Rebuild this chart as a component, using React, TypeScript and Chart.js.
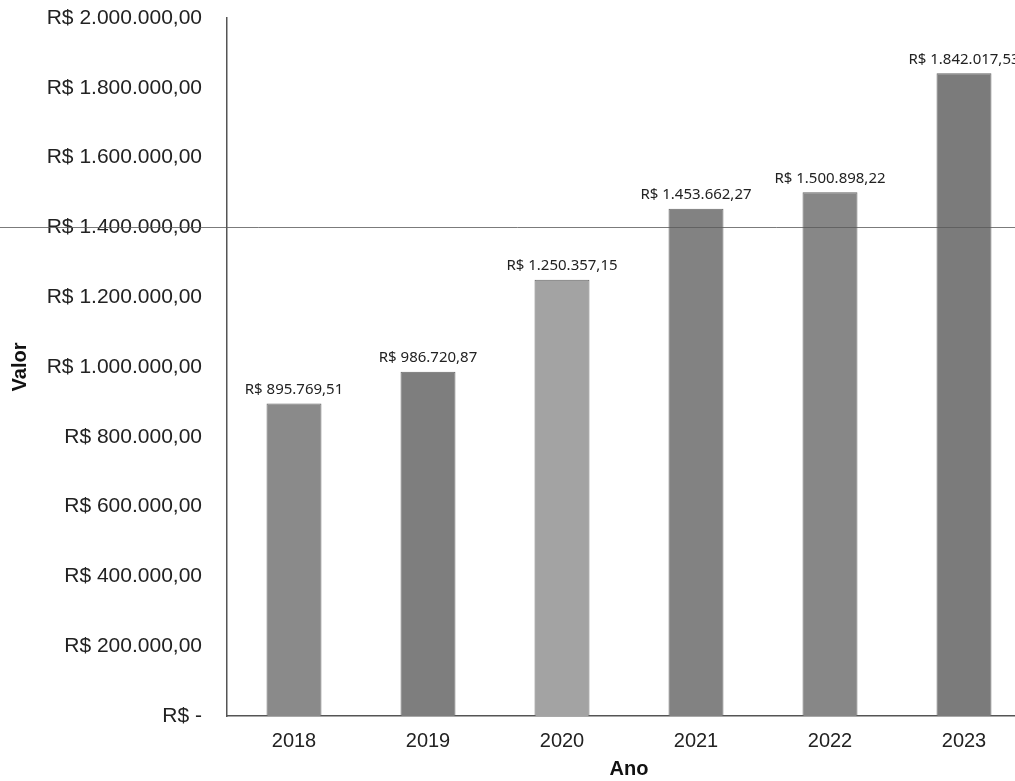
import React, { useEffect, useRef } from "react";
import { Chart, registerables } from "chart.js";

Chart.register(...registerables);

const years = ["2018", "2019", "2020", "2021", "2022", "2023"];
const values = [895769.51, 986720.87, 1250357.15, 1453662.27, 1500898.22, 1842017.53];
const valueLabels = [
  "R$ 895.769,51",
  "R$ 986.720,87",
  "R$ 1.250.357,15",
  "R$ 1.453.662,27",
  "R$ 1.500.898,22",
  "R$ 1.842.017,53",
];
const barColors = ["#8a8a8a", "#7e7e7e", "#a3a3a3", "#828282", "#878787", "#7b7b7b"];
const yTickLabels: Record<number, string> = {
  0: "R$ -",
  200000: "R$ 200.000,00",
  400000: "R$ 400.000,00",
  600000: "R$ 600.000,00",
  800000: "R$ 800.000,00",
  1000000: "R$ 1.000.000,00",
  1200000: "R$ 1.200.000,00",
  1400000: "R$ 1.400.000,00",
  1600000: "R$ 1.600.000,00",
  1800000: "R$ 1.800.000,00",
  2000000: "R$ 2.000.000,00",
};
const scanLineValue = 1400000;

const labelPlugin = {
  id: "barLabels",
  afterDatasetsDraw(chart: any) {
    const ctx = chart.ctx;
    const meta = chart.getDatasetMeta(0);
    ctx.save();
    ctx.font = "15px 'Noto Sans'";
    ctx.fillStyle = "#222";
    ctx.textAlign = "center";
    ctx.textBaseline = "bottom";
    meta.data.forEach((bar: any, i: number) => {
      ctx.fillText(valueLabels[i], bar.x, bar.y - 6);
    });
    ctx.restore();
  },
};

const scanLinePlugin = {
  id: "scanLine",
  afterDraw(chart: any) {
    const ctx = chart.ctx;
    const y = chart.scales.y.getPixelForValue(scanLineValue);
    ctx.save();
    ctx.strokeStyle = "rgba(90,90,90,0.8)";
    ctx.lineWidth = 1;
    ctx.beginPath();
    ctx.moveTo(0, Math.round(y) + 0.5);
    ctx.lineTo(chart.width, Math.round(y) + 0.5);
    ctx.stroke();
    ctx.restore();
  },
};

export default function App() {
  const ref = useRef<HTMLCanvasElement>(null);
  useEffect(() => {
    if (!ref.current) return;
    const chart = new Chart(ref.current, {
      type: "bar",
      data: {
        labels: years,
        datasets: [
          {
            data: values,
            backgroundColor: barColors,
            borderColor: "#666",
            borderWidth: 1,
            barPercentage: 0.41,
            categoryPercentage: 1,
          },
        ],
      },
      options: {
        animation: false,
        responsive: false,
        maintainAspectRatio: false,
        layout: { padding: { top: 18, right: 4, left: 0, bottom: 0 } },
        plugins: { legend: { display: false }, tooltip: { enabled: false } },
        scales: {
          x: {
            grid: { display: false, drawTicks: false },
            border: { display: true, color: "#555", width: 1.5 },
            ticks: { color: "#222", font: { family: "'Liberation Sans'", size: 20 }, padding: 13 },
            title: {
              display: true,
              text: "Ano",
              color: "#111",
              font: { family: "'Liberation Sans'", size: 20, weight: "bold" },
              padding: { top: 3, bottom: 0 },
            },
            afterFit(scale: any) {
              scale.height = 65;
              scale.paddingLeft = 0;
              scale.paddingRight = 0;
            },
          },
          y: {
            min: 0,
            max: 2000000,
            grid: { display: false, drawTicks: false },
            border: { display: true, color: "#555", width: 1.5 },
            ticks: {
              stepSize: 200000,
              color: "#222",
              font: { family: "'Liberation Sans'", size: 21 },
              padding: 25,
              callback: (v: any) => yTickLabels[v as number] ?? "",
            },
            title: {
              display: true,
              text: "Valor",
              color: "#111",
              font: { family: "'Liberation Sans'", size: 20, weight: "bold" },
              padding: { top: 8, bottom: 0 },
            },
            afterFit(scale: any) {
              scale.width = 227;
              scale.paddingTop = 0;
              scale.paddingBottom = 0;
            },
          },
        },
      },
      plugins: [labelPlugin, scanLinePlugin],
    });
    return () => chart.destroy();
  }, []);
  return (
    <div
      style={{
        position: "absolute",
        left: 0,
        top: 0,
        width: 1015,
        height: 781,
        overflow: "hidden",
        background: "#fff",
      }}
    >
      <canvas ref={ref} width={1035} height={781} style={{ display: "block" }} />
    </div>
  );
}
